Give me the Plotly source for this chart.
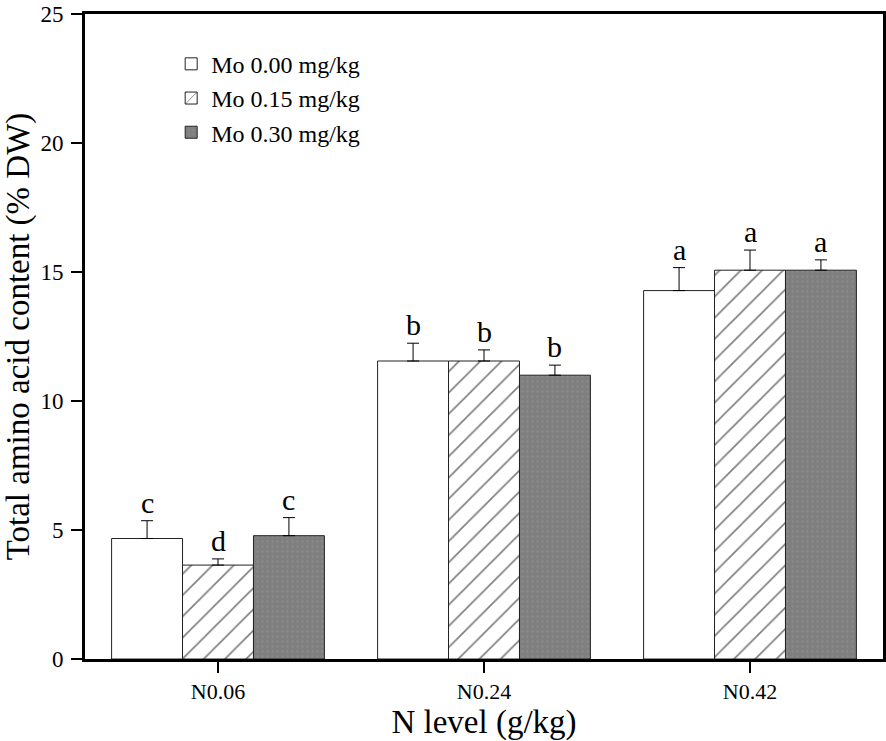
import plotly.graph_objects as go

n_levels = ["N0.06", "N0.24", "N0.42"]
mo_names = ["Mo 0.00 mg/kg", "Mo 0.15 mg/kg", "Mo 0.30 mg/kg"]

mo000 = [4.67, 11.55, 14.28]
mo015 = [3.64, 11.55, 15.07]
mo030 = [4.78, 11.00, 15.07]

err000 = [0.69, 0.69, 0.89]
err015 = [0.24, 0.43, 0.78]
err030 = [0.70, 0.39, 0.40]

let000 = ["c", "b", "a"]
let015 = ["d", "b", "a"]
let030 = ["c", "b", "a"]

FONT = "Liberation Serif, Times New Roman, serif"

series = [
    (mo000, err000, let000, dict(color="white", pattern=dict(shape=""))),
    (mo015, err015, let015, dict(color="white",
                                 pattern=dict(shape="/", fgcolor="black", bgcolor="white",
                                              size=15, solidity=0.11))),
    (mo030, err030, let030, dict(color="#7f7f7f",
                                 pattern=dict(shape=".", fgcolor="#999999", bgcolor="#7f7f7f",
                                              size=5, solidity=0.15))),
]

fig = go.Figure()
bar_w = 0.8 / 3
annotations = []
for i, (vals, errs, lets, mk) in enumerate(series):
    fig.add_bar(
        x=n_levels, y=vals, name=mo_names[i],
        marker=dict(line=dict(color="#222", width=1), **mk),
        error_y=dict(type="data", array=errs, symmetric=False, arrayminus=[0] * 3,
                     visible=True, color="black", thickness=1, width=6),
    )
    offset = (i - 1) * bar_w
    for j in range(3):
        annotations.append(dict(
            x=j + offset, y=vals[j] + errs[j], text=lets[j], showarrow=False,
            xref="x", yref="y", yanchor="bottom", yshift=0,
            font=dict(family=FONT, size=30, color="black"),
        ))

fig.update_layout(
    width=886, height=741,
    margin=dict(l=85, r=3, t=14, b=82),
    paper_bgcolor="white", plot_bgcolor="white",
    barmode="group", bargap=0.2, bargroupgap=0,
    font=dict(family=FONT, color="black"),
    showlegend=True,
    legend=dict(x=0.108, y=0.957, xanchor="left", yanchor="top",
                font=dict(family=FONT, size=24), bgcolor="rgba(0,0,0,0)",
                tracegroupgap=0),
    annotations=annotations,
)
fig.update_xaxes(
    automargin=False,
    showline=True, linecolor="black", linewidth=3, mirror=True,
    ticks="outside", ticklen=11, tickwidth=2, tickcolor="black",
    tickfont=dict(family=FONT, size=22),
    title=dict(text="N level (g/kg)", font=dict(family=FONT, size=33), standoff=2),
    range=[-0.5, 2.5],
)
fig.update_yaxes(
    automargin=False,
    range=[0, 25], dtick=5, showgrid=False, zeroline=False,
    showline=True, linecolor="black", linewidth=3, mirror=True,
    ticks="outside", ticklen=11, tickwidth=2, tickcolor="black",
    tickfont=dict(family=FONT, size=23), ticklabelstandoff=3,
    title=dict(text="Total amino acid content (% DW)", font=dict(family=FONT, size=33),
               standoff=4),
)

# drop the default 8px body margin so the figure fills the window exactly
fig.write_html("out.html", config={"displayModeBar": False},
               post_script="document.body.style.margin='0';")
